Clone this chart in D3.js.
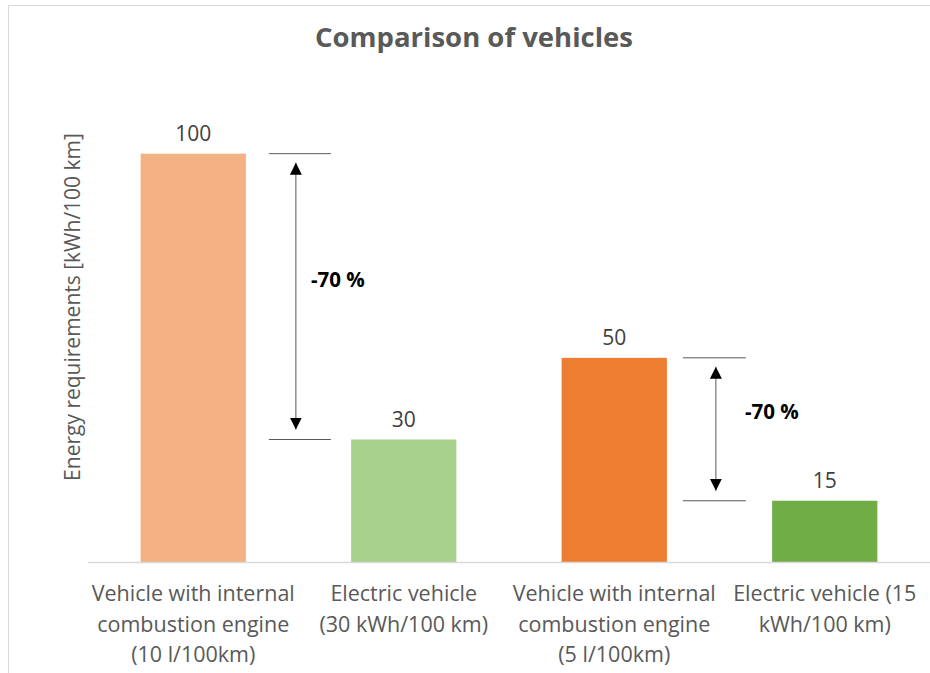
<!DOCTYPE html>
<html>
<head>
<meta charset="utf-8">
<script src="https://cdn.jsdelivr.net/npm/d3@7"></script>
<style>
  html, body { margin: 0; padding: 0; background: #fff; }
  svg { display: block; }
  text { font-family: "Open Sans", Lato, sans-serif; }
</style>
</head>
<body>
<svg id="chart" width="930" height="673"></svg>
<script>
// Energy use per 100 km for combustion and electric vehicles
const categories = [
  ["Vehicle with internal", "combustion engine", "(10 l/100km)"],
  ["Electric vehicle", "(30 kWh/100 km)"],
  ["Vehicle with internal", "combustion engine", "(5 l/100km)"],
  ["Electric vehicle (15", "kWh/100 km)"]
];
const values = [100, 30, 50, 15];
const barColors = ["#F4B183", "#A9D18E", "#ED7D31", "#70AD47"];
// Reduction arrows: from bar index to bar index, with their label
const reductions = [
  { from: 0, to: 1, label: "-70 %" },
  { from: 2, to: 3, label: "-70 %" }
];
const yDomain = [0, 120];

// Layout of each reduction annotation (pixels right of the taller bar)
const annoLayout = [
  { lineStart: 23, lineEnd: 85, arrow: 50, label: 92 },
  { lineStart: 16, lineEnd: 79, arrow: 49, label: 105 }
];

const W = 930, H = 673;
const svg = d3.select("#chart");

// Chart frame
svg.append("rect")
  .attr("x", 8.5).attr("y", 5.5)
  .attr("width", W).attr("height", H)
  .attr("fill", "#fff")
  .attr("stroke", "#d9d9d9").attr("stroke-width", 1);

const plot = { left: 88, right: 930, top: 72, bottom: 562 };

const x = d3.scaleBand()
  .domain(d3.range(values.length))
  .range([plot.left, plot.right])
  .paddingInner(0.5).paddingOuter(0.25);

const y = d3.scaleLinear().domain(yDomain).range([plot.bottom, plot.top]);

// Title
svg.append("text")
  .attr("x", 474).attr("y", 47)
  .attr("text-anchor", "middle")
  .attr("font-size", 27.5).attr("font-weight", "bold")
  .attr("fill", "#595959")
  .text("Comparison of vehicles");

// Y axis title
svg.append("text")
  .attr("transform", "translate(80, 307) rotate(-90)")
  .attr("text-anchor", "middle")
  .attr("font-size", 21)
  .attr("fill", "#595959")
  .text("Energy requirements [kWh/100 km]");

// Bars
svg.append("g").selectAll("rect")
  .data(values)
  .join("rect")
  .attr("x", (d, i) => x(i))
  .attr("y", d => y(d))
  .attr("width", x.bandwidth())
  .attr("height", d => y(0) - y(d))
  .attr("fill", (d, i) => barColors[i]);

// Baseline
svg.append("line")
  .attr("x1", plot.left).attr("x2", plot.right)
  .attr("y1", y(0) + 0.5).attr("y2", y(0) + 0.5)
  .attr("stroke", "#d9d9d9").attr("stroke-width", 1.5);

// Value labels
svg.append("g").selectAll("text")
  .data(values)
  .join("text")
  .attr("x", (d, i) => x(i) + x.bandwidth() / 2)
  .attr("y", d => y(d) - 13)
  .attr("text-anchor", "middle")
  .attr("font-size", 21)
  .attr("fill", "#404040")
  .text(d => d);

// Category labels
const catG = svg.append("g");
categories.forEach((lines, i) => {
  const t = catG.append("text")
    .attr("text-anchor", "middle")
    .attr("font-size", 21.5)
    .attr("fill", "#595959");
  lines.forEach((ln, j) => {
    t.append("tspan")
      .attr("x", x(i) + x.bandwidth() / 2)
      .attr("y", 601 + j * 30.5)
      .text(ln);
  });
});

// Arrowhead marker
const defs = svg.append("defs");
defs.append("marker")
  .attr("id", "head")
  .attr("viewBox", "0 0 10 10")
  .attr("refX", 10).attr("refY", 5)
  .attr("markerWidth", 12).attr("markerHeight", 12)
  .attr("markerUnits", "userSpaceOnUse")
  .attr("orient", "auto-start-reverse")
  .append("path")
  .attr("d", "M0,0 L10,5 L0,10 Z")
  .attr("fill", "#000");

// Reduction annotations
reductions.forEach((r, k) => {
  const L = annoLayout[k];
  const x0 = x(r.from) + x.bandwidth();
  const xa = x0 + L.arrow;
  const yTop = y(values[r.from]);
  const yBot = y(values[r.to]);
  const g = svg.append("g");
  [yTop, yBot].forEach(yy => {
    g.append("line")
      .attr("x1", x0 + L.lineStart).attr("x2", x0 + L.lineEnd)
      .attr("y1", yy).attr("y2", yy)
      .attr("stroke", "#595959").attr("stroke-width", 1);
  });
  g.append("line")
    .attr("x1", xa).attr("x2", xa)
    .attr("y1", yTop + 9).attr("y2", yBot - 10)
    .attr("stroke", "#595959").attr("stroke-width", 1)
    .attr("marker-start", "url(#head)")
    .attr("marker-end", "url(#head)");
  g.append("text")
    .attr("x", x0 + L.label).attr("y", (yTop + yBot) / 2 - 10)
    .attr("text-anchor", "middle")
    .attr("font-size", 20.5).attr("font-weight", "bold")
    .attr("fill", "#000")
    .text(r.label);
});
</script>
</body>
</html>
